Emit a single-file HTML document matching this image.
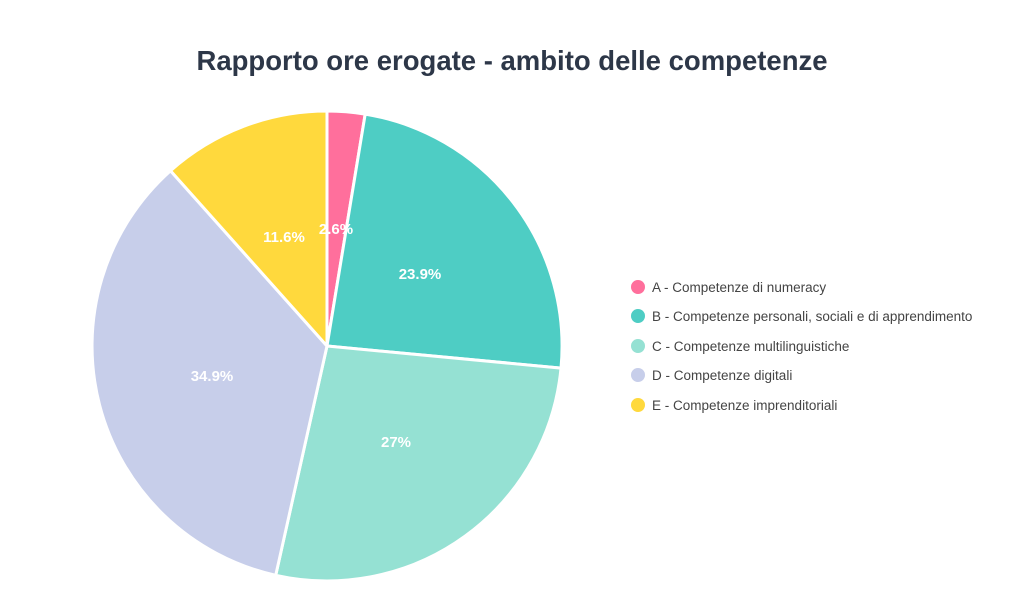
<!DOCTYPE html>
<html><head><meta charset="utf-8"><style>
html,body{margin:0;padding:0;background:#fff;}
</style></head><body>
<svg width="1024" height="610" xmlns="http://www.w3.org/2000/svg" font-family="'Liberation Sans', sans-serif">
<rect width="1024" height="610" fill="#fff"/>
<text x="512" y="70" text-anchor="middle" font-size="27.5" font-weight="bold" fill="#2d3748">Rapporto ore erogate - ambito delle competenze</text>
<g stroke="#fff" stroke-width="3" stroke-linejoin="round">
<path d="M327,346 L327,111 A235,235 0 0,1 365.2,114.1 Z" fill="#FF6F9C"/>
<path d="M327,346 L365.2,114.1 A235,235 0 0,1 561,368.1 Z" fill="#4ECDC4"/>
<path d="M327,346 L561,368.1 A235,235 0 0,1 275.7,575.3 Z" fill="#95E1D3"/>
<path d="M327,346 L275.7,575.3 A235,235 0 0,1 170.5,170.7 Z" fill="#C7CEEA"/>
<path d="M327,346 L170.5,170.7 A235,235 0 0,1 327,111 Z" fill="#FFD93D"/>
</g>
<g font-size="15" font-weight="bold" fill="#fff" text-anchor="middle">
<text x="336" y="234">2.6%</text>
<text x="420" y="279">23.9%</text>
<text x="396" y="447">27%</text>
<text x="212" y="381">34.9%</text>
<text x="284" y="242">11.6%</text>
</g>
<g font-size="13.5" fill="#444">
<circle cx="638" cy="287" r="7" fill="#FF6F9C"/><text x="652" y="292">A - Competenze di numeracy</text>
<circle cx="638" cy="316" r="7" fill="#4ECDC4"/><text x="652" y="321">B - Competenze personali, sociali e di apprendimento</text>
<circle cx="638" cy="346" r="7" fill="#95E1D3"/><text x="652" y="351">C - Competenze multilinguistiche</text>
<circle cx="638" cy="375" r="7" fill="#C7CEEA"/><text x="652" y="380">D - Competenze digitali</text>
<circle cx="638" cy="405" r="7" fill="#FFD93D"/><text x="652" y="410">E - Competenze imprenditoriali</text>
</g>
</svg>
</body></html>
